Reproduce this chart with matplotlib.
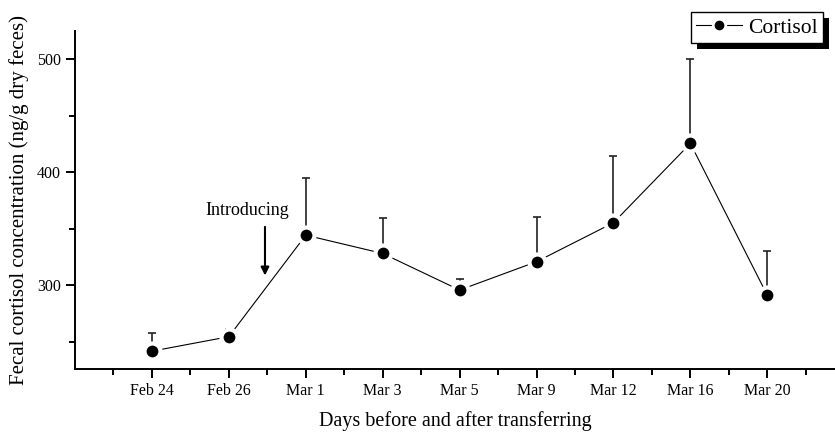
"""Fecal cortisol concentration before and after transferring."""

import matplotlib.pyplot as plt
import numpy as np
from matplotlib.patches import Rectangle
from matplotlib.ticker import FixedLocator, MultipleLocator
from matplotlib.transforms import IdentityTransform

plt.rcParams["font.family"] = ["Liberation Serif", "DejaVu Serif"]

days = ["Feb 24", "Feb 26", "Mar 1", "Mar 3", "Mar 5", "Mar 9", "Mar 12", "Mar 16", "Mar 20"]
cortisol = [241.5, 254.3, 344.2, 328.0, 295.6, 320.7, 355.2, 425.4, 291.0]
err_upper = [16.0, 6.5, 50.2, 31.6, 9.7, 39.8, 58.8, 74.6, 39.0]

x = np.arange(1, len(days) + 1)

fig = plt.figure(figsize=(8.35, 4.33), dpi=100)
ax = fig.add_axes([0.0898, 0.1478, 0.9102, 0.7802])

ax.errorbar(x, cortisol, yerr=[np.zeros(len(x)), err_upper], fmt="none",
            ecolor="#222222", elinewidth=1.2, capsize=3, capthick=1.2, zorder=2)
ax.plot(x, cortisol, color="black", lw=0.8, marker="o", ms=11.5, mfc="black",
        mec="white", mew=3, zorder=3, label="Cortisol")

ax.annotate("", xy=(2.47, 306), xytext=(2.47, 354),
            arrowprops=dict(arrowstyle="-|>", color="black", lw=1.5, mutation_scale=12))
ax.text(2.24, 366, "Introducing", ha="center", va="center", fontsize=13)

ax.set_xlim(0, 9.88)
ax.set_ylim(225.7, 524.8)
ax.set_xticks(x)
ax.set_xticklabels(days)
ax.xaxis.set_minor_locator(FixedLocator(np.arange(0.5, 10, 1.0)))
ax.yaxis.set_major_locator(MultipleLocator(100))
ax.yaxis.set_minor_locator(MultipleLocator(50))

for side in ("top", "right"):
    ax.spines[side].set_visible(False)
for side in ("left", "bottom"):
    ax.spines[side].set_linewidth(1.4)
ax.tick_params(which="major", direction="out", length=6.5, width=1.4, labelsize=11.5)
ax.tick_params(which="minor", direction="out", length=4, width=1.4)

ax.set_xlabel("Days before and after transferring", fontsize=14.5, labelpad=9)
ax.set_ylabel("Fecal cortisol concentration (ng/g dry feces)", fontsize=15, labelpad=6)

leg = ax.legend(loc="upper right", bbox_to_anchor=(0.9856, 0.972),
                bbox_transform=fig.transFigure, borderaxespad=0, fancybox=False,
                fontsize=15.5, handlelength=2.1, handletextpad=0.3, borderpad=0.25,
                framealpha=1, edgecolor="black")
leg.get_frame().set_linewidth(1.0)
for h in leg.legend_handles:
    h.set_markersize(9)
    h.set_markeredgewidth(2)

# offset black shadow behind the legend box
fig.canvas.draw()
bb = leg.get_window_extent()
shadow = Rectangle((bb.x0 + 6, bb.y0 - 6), bb.width, bb.height,
                   transform=IdentityTransform(), facecolor="black",
                   edgecolor="none", clip_on=False, zorder=4.9)
ax.add_artist(shadow)
leg.set_zorder(6)

fig.savefig("out.png", dpi=100)
